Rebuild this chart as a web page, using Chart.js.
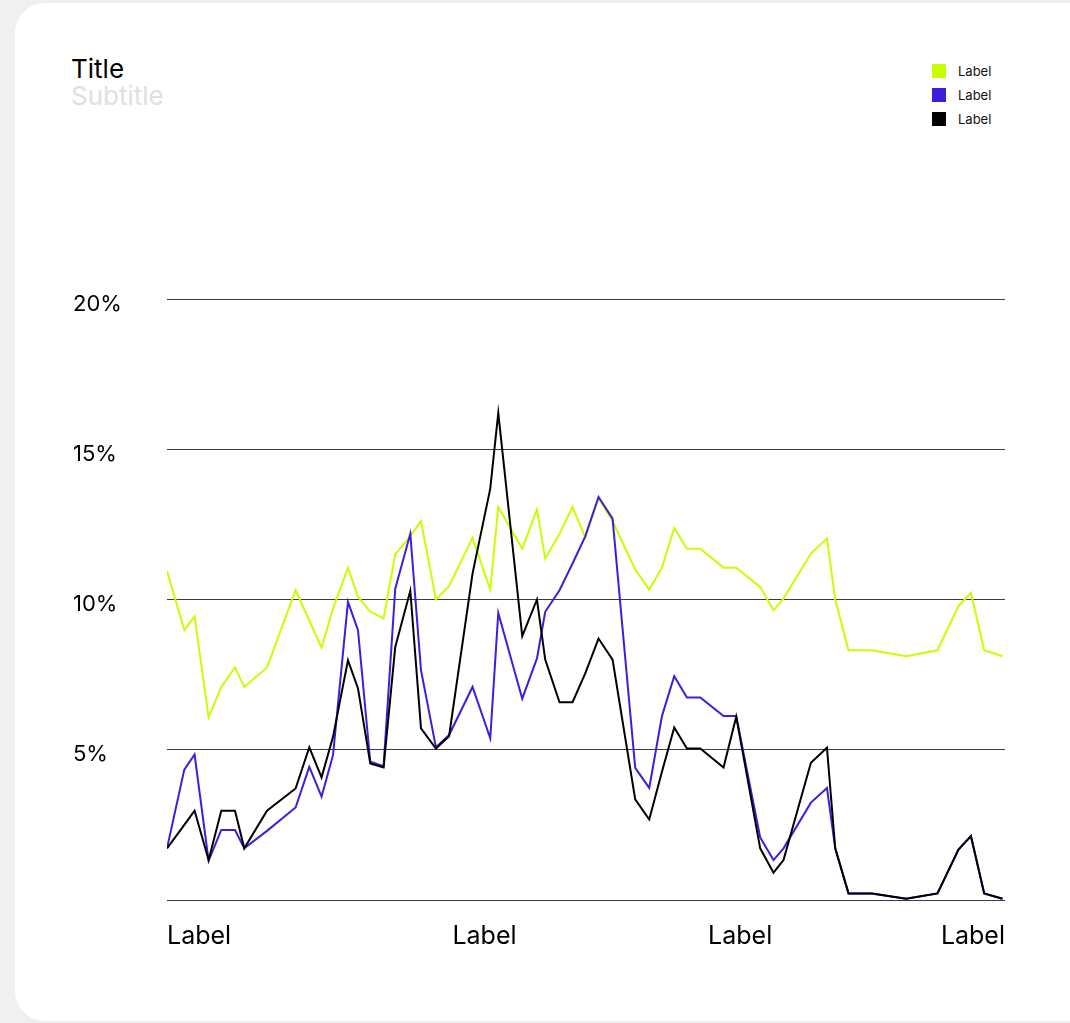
<!DOCTYPE html>
<html>
<head>
<meta charset="utf-8">
<script src="https://cdn.jsdelivr.net/npm/chart.js@4.4.0/dist/chart.umd.min.js"></script>
<style>
    html, body { margin: 0; padding: 0; }
    body {
        width: 1070px; height: 1023px; overflow: hidden;
        background: #f0f0f0;
        font-family: 'Inter', 'Noto Sans', sans-serif;
        position: relative;
    }
    .card {
        position: absolute; left: 15px; top: 3px;
        width: 1100px; height: 1018px;
        background: #fff; border-radius: 30px;
    }
    .head {
        position: absolute; left: 71px; top: 55px;
        font-size: 26px; line-height: 27px;
    }
    .head .title { color: #000; }
    .head .sub { color: #e0e0e0; }
    #legend {
        position: absolute; left: 932px; top: 59px;
        font-size: 13px; color: #111;
    }
    #legend .item { display: flex; align-items: center; height: 24px; }
    #legend .box { width: 14px; height: 14px; margin-right: 12px; }
    #chart { position: absolute; left: 60px; top: 280px; }
</style>
</head>
<body>
<div class="card"></div>
<div class="head">
    <div class="title">Title</div>
    <div class="sub">Subtitle</div>
</div>
<div id="legend"></div>
<canvas id="chart" width="966" height="707"></canvas>

<script>
// ---- data -----------------------------------------------------------------
const X_VALUES = [0, 2.07, 3.30, 4.98, 6.50, 8.14, 9.25, 11.97, 15.39, 17.03,
    18.50, 19.87, 21.66, 22.86, 24.33, 25.92, 27.32, 29.12, 30.40, 32.19,
    33.76, 36.57, 38.69, 39.65, 42.52, 44.28, 45.27, 46.98, 48.54, 50.06,
    51.65, 53.33, 56.04, 57.72, 59.24, 60.71, 62.23, 63.83, 66.61, 68.13,
    71.00, 72.59, 73.79, 77.07, 78.99, 79.98, 81.57, 84.37, 88.47, 92.22,
    94.73, 96.22, 97.81, 100];

const GREEN = [10.95, 8.98, 9.44, 6.08, 7.09, 7.74, 7.09, 7.74, 10.31, 9.3,
    8.4, 9.7, 11.06, 10.09, 9.59, 9.37, 11.51, 12.1, 12.61, 10.0,
    10.44, 12.05, 10.33, 13.08, 11.69, 12.99, 11.36, 12.19, 13.08, 12.06,
    13.36, 12.61, 11.0, 10.33, 11.06, 12.38, 11.69, 11.69, 11.06, 11.06,
    10.42, 9.64, 10.03, 11.53, 12.03, 10.0, 8.31, 8.31, 8.11, 8.31,
    9.78, 10.22, 8.31, 8.11];

const BLUE = [1.72, 4.34, 4.84, 1.31, 2.33, 2.33, 1.72, 2.3, 3.08, 4.43,
    3.44, 4.82, 9.92, 8.98, 4.6, 4.45, 10.36, 12.19, 7.65, 5.08,
    5.49, 7.09, 5.38, 9.55, 6.70, 8.04, 9.59, 10.31, 11.2, 12.1,
    13.41, 12.69, 4.40, 3.73, 6.12, 7.45, 6.74, 6.74, 6.12, 6.12,
    2.08, 1.33, 1.72, 3.24, 3.73, 1.72, 0.22, 0.22, 0.04, 0.22,
    1.68, 2.13, 0.22, 0.04];

const BLACK = [1.72, 2.5, 2.97, 1.33, 2.97, 2.97, 1.72, 2.97, 3.71, 5.08,
    4.08, 5.43, 7.98, 7.04, 4.54, 4.41, 8.42, 10.29, 5.71, 5.04,
    5.45, 10.86, 13.69, 16.21, 8.78, 10.0, 8.0, 6.58, 6.58, 7.54,
    8.7, 8.0, 3.35, 2.68, 4.27, 5.74, 5.04, 5.04, 4.41, 6.10,
    1.72, 0.91, 1.33, 4.57, 5.07, 1.72, 0.22, 0.22, 0.04, 0.22,
    1.68, 2.13, 0.22, 0.04];

const SERIES_LABELS = ['Label', 'Label', 'Label'];
const X_TICKS = [0, 38.0, 68.6, 100.3];
const X_TICK_LABELS = ['Label', 'Label', 'Label', 'Label'];
const Y_TICKS = [0, 5, 10, 15, 20];

const COLORS = ['#c8ff00', '#3b1fdc', '#000000'];

const toPoints = arr => X_VALUES.map((x, i) => ({ x, y: arr[i] }));

const ctx = document.getElementById('chart').getContext('2d');

const chart = new Chart(ctx, {
    type: 'line',
    data: {
        datasets: [GREEN, BLUE, BLACK].map((arr, i) => ({
            label: SERIES_LABELS[i],
            data: toPoints(arr),
            borderColor: COLORS[i],
            backgroundColor: COLORS[i],
            borderWidth: 2,
            pointRadius: 0,
            tension: 0,
            order: 3 - i,
        }))
    },
    options: {
        responsive: false,
        animation: false,
        events: [],
        layout: { padding: { left: 13, right: 15, top: 19, bottom: 15 } },
        plugins: {
            legend: { display: false },
            tooltip: { enabled: false },
        },
        scales: {
            x: {
                type: 'linear',
                min: 0,
                max: 100.3,
                grid: { display: false, drawTicks: false },
                border: { display: false },
                afterBuildTicks: scale => { scale.ticks = X_TICKS.map(v => ({ value: v })); },
                ticks: {
                    autoSkip: false,
                    maxRotation: 0,
                    align: 'inner',
                    padding: 21,
                    color: '#000',
                    font: { family: 'Inter', size: 25 },
                    callback: (v, i) => X_TICK_LABELS[i],
                },
            },
            y: {
                min: 0,
                max: 20,
                afterBuildTicks: scale => { scale.ticks = Y_TICKS.map(v => ({ value: v })); },
                afterFit: scale => { scale.width = 94; },
                grid: { color: '#3a3a42', lineWidth: 1, drawTicks: false },
                border: { display: false },
                ticks: {
                    crossAlign: 'far',
                    labelOffset: 5,
                    color: '#000',
                    font: { family: 'Inter', size: 22 },
                    callback: v => v === 0 ? '' : v + '%',
                },
            },
        },
    },
});

// ---- HTML legend -----------------------------------------------------------
const legend = document.getElementById('legend');
chart.data.datasets.forEach(ds => {
    const item = document.createElement('div');
    item.className = 'item';
    item.innerHTML = `<span class="box" style="background:${ds.borderColor}"></span><span>${ds.label}</span>`;
    legend.appendChild(item);
});
</script>
</body>
</html>
